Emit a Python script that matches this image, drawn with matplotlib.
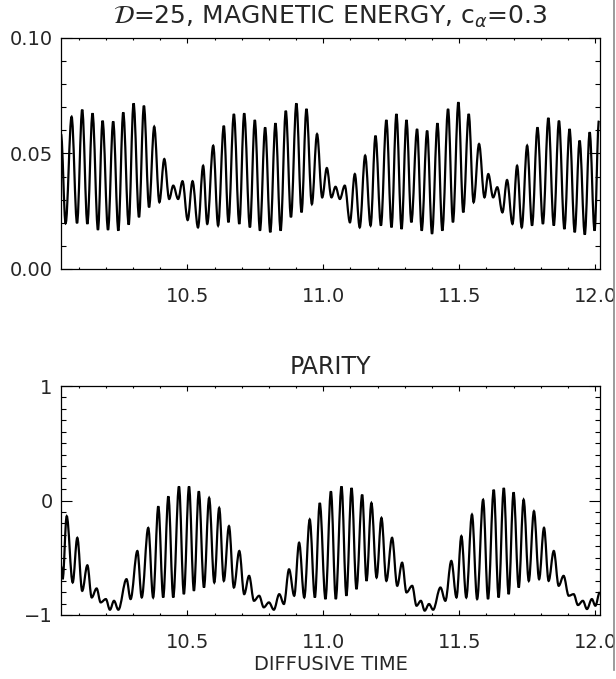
import numpy as np
import matplotlib
matplotlib.use("Agg")
import matplotlib.pyplot as plt
from matplotlib.path import Path
from matplotlib.patches import PathPatch
from matplotlib.lines import Line2D
from matplotlib.ticker import MultipleLocator, FormatStrFormatter, ScalarFormatter

# extrema of the magnetic energy curve (time, value)
energy_t = [10.035, 10.052, 10.074, 10.094, 10.113, 10.132, 10.151, 10.171, 10.188, 10.208,
            10.227, 10.246, 10.264, 10.284, 10.302, 10.322, 10.340, 10.359, 10.378, 10.397,
            10.415, 10.433, 10.448, 10.466, 10.482, 10.501, 10.519, 10.539, 10.558,
            10.573, 10.595, 10.613, 10.634, 10.651, 10.671, 10.691, 10.709, 10.730, 10.748,
            10.767, 10.786, 10.805, 10.824, 10.843, 10.862, 10.881, 10.901, 10.920, 10.938,
            10.958, 10.977, 10.996, 11.013, 11.030, 11.045, 11.061, 11.079, 11.098, 11.116,
            11.134, 11.154, 11.174, 11.192, 11.212, 11.232, 11.251, 11.269, 11.288, 11.306,
            11.324, 11.345, 11.362, 11.382, 11.400, 11.420, 11.438, 11.459, 11.477, 11.497,
            11.515, 11.535, 11.553, 11.573, 11.593, 11.607, 11.625, 11.640, 11.659, 11.676,
            11.696, 11.713, 11.730, 11.750, 11.768, 11.788, 11.808, 11.828, 11.848, 11.867,
            11.887, 11.906, 11.925, 11.943, 11.962, 11.980, 11.998, 12.014]
energy_v = [0.0584, 0.0198, 0.0659, 0.0198, 0.0690, 0.0195, 0.0674, 0.0169, 0.0642, 0.0169,
            0.0639, 0.0166, 0.0678, 0.0192, 0.0717, 0.0224, 0.0707, 0.0267, 0.0616, 0.0289,
            0.0476, 0.0303, 0.0361, 0.0303, 0.0380, 0.0212, 0.0380, 0.0180, 0.0447,
            0.0195, 0.0534, 0.0188, 0.0620, 0.0202, 0.0671, 0.0195, 0.0674, 0.0180, 0.0645,
            0.0166, 0.0613, 0.0159, 0.0631, 0.0166, 0.0685, 0.0224, 0.0717, 0.0245, 0.0693,
            0.0281, 0.0584, 0.0310, 0.0437, 0.0310, 0.0356, 0.0303, 0.0361, 0.0202, 0.0411,
            0.0180, 0.0491, 0.0188, 0.0577, 0.0188, 0.0645, 0.0180, 0.0671, 0.0173, 0.0645,
            0.0202, 0.0606, 0.0166, 0.0599, 0.0152, 0.0631, 0.0166, 0.0693, 0.0202, 0.0722,
            0.0245, 0.0671, 0.0289, 0.0541, 0.0310, 0.0411, 0.0310, 0.0354, 0.0245, 0.0385,
            0.0195, 0.0447, 0.0180, 0.0534, 0.0188, 0.0613, 0.0195, 0.0654, 0.0188, 0.0642,
            0.0173, 0.0606, 0.0159, 0.0556, 0.0149, 0.0592, 0.0166, 0.0642]

# extrema of the parity curve
parity_t = [10.035, 10.041, 10.056, 10.078, 10.095, 10.113, 10.132, 10.148, 10.166, 10.181,
            10.200, 10.215, 10.230, 10.246, 10.276, 10.291, 10.316, 10.332, 10.356, 10.374,
            10.393, 10.411, 10.430, 10.448, 10.469, 10.487, 10.506, 10.524, 10.542, 10.561,
            10.580, 10.599, 10.617,
            10.634, 10.653, 10.671, 10.691, 10.709, 10.727, 10.745, 10.764, 10.781, 10.800,
            10.818, 10.838, 10.855, 10.874, 10.893, 10.911, 10.930, 10.950, 10.969, 10.987,
            11.008, 11.028, 11.046, 11.067, 11.085, 11.104, 11.122, 11.143, 11.159, 11.177,
            11.196, 11.214, 11.232, 11.253, 11.272, 11.290,
            11.306, 11.327, 11.343, 11.359, 11.373, 11.389, 11.404, 11.431, 11.449, 11.471,
            11.490, 11.508, 11.526, 11.547, 11.566, 11.588, 11.606, 11.627, 11.645, 11.664,
            11.682, 11.700, 11.719, 11.737, 11.756, 11.775, 11.794, 11.812, 11.829, 11.848,
            11.866, 11.884, 11.903, 11.921, 11.937, 11.955, 11.970, 11.988, 12.001, 12.017]
parity_v = [-0.572, -0.687, -0.137, -0.716, -0.326, -0.789, -0.566, -0.847, -0.768, -0.890,
            -0.861, -0.954, -0.876, -0.954, -0.687, -0.861, -0.441, -0.847, -0.239, -0.847,
            -0.051, -0.847, 0.036, -0.847, 0.123, -0.818, 0.123, -0.789, 0.080, -0.760,
            0.022, -0.716, -0.065,
            -0.702, -0.224, -0.760, -0.441, -0.818, -0.658, -0.876, -0.832, -0.933, -0.890,
            -0.954, -0.818, -0.904, -0.601, -0.832, -0.369, -0.847, -0.166, -0.847, -0.022,
            -0.861, 0.080, -0.861, 0.123, -0.832, 0.109, -0.774, 0.051, -0.702, -0.022,
            -0.673, -0.152, -0.702, -0.326, -0.745, -0.543,
            -0.803, -0.745, -0.919, -0.876, -0.962, -0.904, -0.954, -0.760, -0.876, -0.528,
            -0.847, -0.311, -0.847, -0.123, -0.861, 0.007, -0.861, 0.094, -0.847, 0.109,
            -0.818, 0.071, -0.760, 0.007, -0.702, -0.094, -0.687, -0.239, -0.702, -0.441,
            -0.745, -0.658, -0.832, -0.818, -0.913, -0.876, -0.948, -0.861, -0.919, -0.803]

xlim = (10.035, 12.018)
txt = "#262626"


def wave(t, v, k=0.36):
    # smooth curve through the extrema: flat tangent at every turning point
    verts = [(t[0], v[0])]
    codes = [Path.MOVETO]
    for i in range(1, len(t)):
        d = t[i] - t[i - 1]
        verts += [(t[i - 1] + k * d, v[i - 1]), (t[i] - k * d, v[i]), (t[i], v[i])]
        codes += [Path.CURVE4] * 3
    return PathPatch(Path(verts, codes), fill=False, lw=1.6, edgecolor="k")


def idl_axes(ax):
    ax.set_xlim(*xlim)
    ax.xaxis.set_major_locator(MultipleLocator(0.5))
    ax.xaxis.set_minor_locator(MultipleLocator(0.1))
    ax.xaxis.set_major_formatter(FormatStrFormatter("%.1f"))
    ax.tick_params(axis="x", which="major", direction="in", length=3.3, width=0.8,
                   top=True, labelsize=14, pad=13, labelcolor=txt)
    ax.tick_params(axis="x", which="minor", direction="in", length=1.7, width=0.8, top=True)
    ax.tick_params(axis="y", which="major", direction="in", length=7.8, width=0.8,
                   right=True, labelsize=14, pad=6, labelcolor=txt)
    ax.tick_params(axis="y", which="minor", direction="in", length=3.9, width=0.8, right=True)
    for s in ax.spines.values():
        s.set_linewidth(0.9)


fig = plt.figure(figsize=(6.16, 6.79), dpi=100)
ax1 = fig.add_axes([61 / 616, 1 - 269 / 679, 539 / 616, 231 / 679])
ax2 = fig.add_axes([61 / 616, 1 - 615 / 679, 539 / 616, 229 / 679])

ax1.add_patch(wave(energy_t, energy_v))
idl_axes(ax1)
ax1.set_ylim(0, 0.10)
ax1.yaxis.set_major_locator(MultipleLocator(0.05))
ax1.yaxis.set_minor_locator(MultipleLocator(0.01))
ax1.yaxis.set_major_formatter(FormatStrFormatter("%.2f"))
ax1.set_title(r"$\mathcal{D}$=25, MAGNETIC ENERGY, c$_\alpha$=0.3",
              fontsize=18, color=txt, pad=10)

ax2.add_patch(wave(parity_t, parity_v))
idl_axes(ax2)
ax2.set_ylim(-1, 1)
ax2.yaxis.set_major_locator(MultipleLocator(1))
ax2.yaxis.set_minor_locator(MultipleLocator(0.1))
ax2.yaxis.set_major_formatter(ScalarFormatter())
ax2.set_title("PARITY", fontsize=17, color=txt, pad=9)
ax2.set_xlabel("DIFFUSIVE TIME", fontsize=14, color=txt, labelpad=2)

# scanner edge on the right of the page
fig.add_artist(Line2D([613.5 / 616] * 2, [1, 1 - 670 / 679], color="#8a8a8a", lw=1.2))

fig.savefig("out.png", dpi=100)
